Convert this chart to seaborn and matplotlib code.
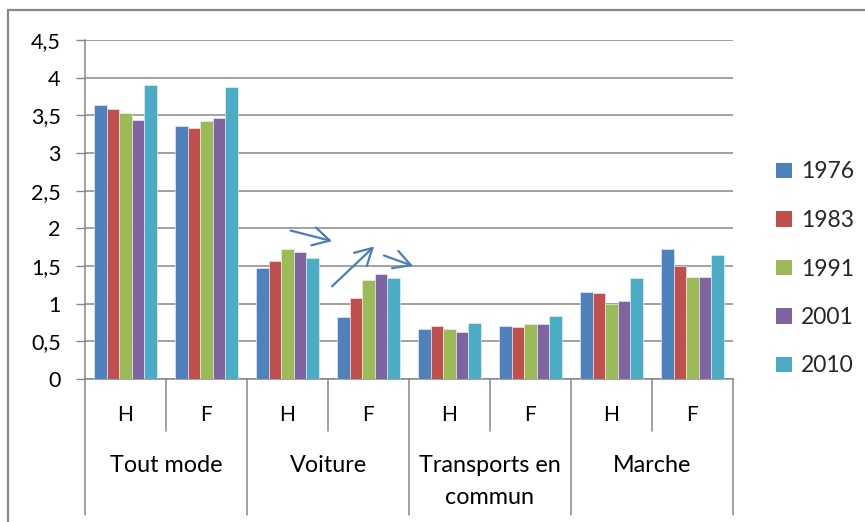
import matplotlib
matplotlib.use("Agg")
import matplotlib.pyplot as plt
from matplotlib.patches import Patch
from matplotlib.lines import Line2D
import matplotlib.transforms as mtransforms
import seaborn as sns
import pandas as pd

# ---- data ----
years = ["1976", "1983", "1991", "2001", "2010"]
groups = ["Tout mode", "Voiture", "Transports en commun", "Marche"]
sexes = ["H", "F"]
v1976 = [3.64, 3.36, 1.48, 0.82, 0.67, 0.70, 1.16, 1.72]
v1983 = [3.59, 3.33, 1.57, 1.08, 0.70, 0.69, 1.14, 1.50]
v1991 = [3.53, 3.43, 1.72, 1.32, 0.67, 0.73, 1.00, 1.35]
v2001 = [3.44, 3.47, 1.69, 1.40, 0.63, 0.73, 1.03, 1.35]
v2010 = [3.90, 3.87, 1.61, 1.34, 0.75, 0.83, 1.34, 1.64]
yticks = [0, 0.5, 1, 1.5, 2, 2.5, 3, 3.5, 4, 4.5]
ytick_labels = ["0", "0,5", "1", "1,5", "2", "2,5", "3", "3,5", "4", "4,5"]

colors = ["#4F81BD", "#C0504D", "#9BBB59", "#8064A2", "#4BACC6"]
series = [v1976, v1983, v1991, v2001, v2010]

cats = [f"{g}|{s}" for g in groups for s in sexes]
rows = []
for yr, vals in zip(years, series):
    for c, v in zip(cats, vals):
        rows.append({"cat": c, "year": yr, "value": v})
df = pd.DataFrame(rows)

sns.set_theme(style="white")
plt.rcParams["font.family"] = ["Lato", "DejaVu Sans"]

fig = plt.figure(figsize=(8.65, 5.22), dpi=100)
W, H = 865, 522
ax = fig.add_axes([85 / W, (H - 379) / H, (733 - 85) / W, (379 - 40) / H])

sns.barplot(data=df, x="cat", y="value", hue="year", order=cats, hue_order=years,
            palette=colors, width=0.78, saturation=1, errorbar=None,
            edgecolor="#f4f4f4", linewidth=0.4, legend=False, ax=ax, zorder=3)

grid_c = "#878787"
ax.set_xlim(-0.5, 7.5)
ax.set_ylim(0, 4.5)
ax.set_yticks(yticks)
ax.set_yticklabels(ytick_labels)
ax.yaxis.grid(True, color=grid_c, lw=1.1, zorder=0)
ax.set_axisbelow(True)
ax.tick_params(axis="y", length=6.5, width=1.0, color=grid_c, pad=11, left=True,
               labelsize=15.5, labelcolor="black")
ax.set_xticks([])
ax.set_xlabel("")
ax.set_ylabel("")
for s in ["top", "right"]:
    ax.spines[s].set_visible(False)
for s in ["left", "bottom"]:
    ax.spines[s].set_color(grid_c)
    ax.spines[s].set_linewidth(1.1)

# category axis separators and labels
trans = mtransforms.blended_transform_factory(ax.transData, ax.transAxes)
ax_h = 339.0
short_y = -(431 - 379) / ax_h
long_y = -(515 - 379) / ax_h
for i in range(9):
    xb = i - 0.5
    y_end = long_y if i % 2 == 0 else short_y
    ax.add_line(Line2D([xb, xb], [0, y_end], transform=trans, color=grid_c,
                       lw=1.1, clip_on=False))
for i, c in enumerate(cats):
    ax.text(i, -(415 - 379) / ax_h, c.split("|")[1], transform=trans,
            ha="center", va="center", fontsize=15, color="black")
for gi, g in enumerate(groups):
    xc = gi * 2 + 0.5
    if g == "Transports en commun":
        ax.text(xc, -(466 - 379) / ax_h, "Transports en", transform=trans,
                ha="center", va="center", fontsize=16.8, color="black")
        ax.text(xc, -(497 - 379) / ax_h, "commun", transform=trans,
                ha="center", va="center", fontsize=16.8, color="black")
    else:
        ax.text(xc, -(466 - 379) / ax_h, g, transform=trans,
                ha="center", va="center", fontsize=16.8, color="black")

# hand-drawn arrows
arrow_c = "#4A7EBB"
aprops = dict(arrowstyle="->,head_length=1.0,head_width=0.55", color=arrow_c,
              lw=1.6, shrinkA=0, shrinkB=0)
ax.annotate("", xy=(2.55, 1.83), xytext=(2.04, 1.97), arrowprops=aprops, annotation_clip=False)
ax.annotate("", xy=(3.07, 1.76), xytext=(2.55, 1.23), arrowprops=aprops, annotation_clip=False)
ax.annotate("", xy=(3.55, 1.50), xytext=(3.19, 1.64), arrowprops=aprops, annotation_clip=False)

# legend
handles = [Patch(facecolor=c, edgecolor="none") for c in colors]
fig.legend(handles, years, loc="center left", bbox_to_anchor=(776 / W, (H - 269) / H),
           frameon=False, fontsize=16.5, handlelength=0.68, handleheight=0.68,
           handletextpad=0.4, labelspacing=1.2, borderpad=0, borderaxespad=0)

# outer chart border (left and top visible)
fig.add_artist(Line2D([8 / W, 8 / W], [0, (H - 10) / H], transform=fig.transFigure,
                      color=grid_c, lw=1.6))
fig.add_artist(Line2D([8 / W, 1], [(H - 10) / H, (H - 10) / H], transform=fig.transFigure,
                      color=grid_c, lw=1.6))

fig.savefig("out.png", dpi=100, facecolor="white")
